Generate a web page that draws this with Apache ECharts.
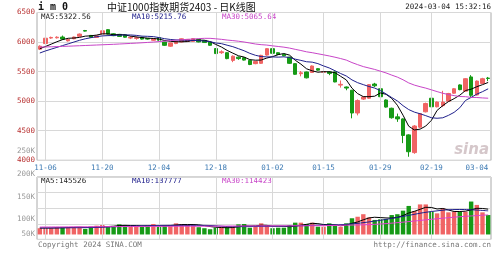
<!DOCTYPE html>
<html><head><meta charset="utf-8">
<script src="https://cdn.jsdelivr.net/npm/echarts@6/dist/echarts.min.js"></script>
<style>html,body{margin:0;padding:0;background:#fff}#c{width:499px;height:272px}</style>
</head><body><div id="c"></div><script>
const dates = ['11-03','11-06','11-07','11-08','11-09','11-10','11-13','11-14','11-15','11-16','11-17','11-20','11-21','11-22','11-23','11-24','11-27','11-28','11-29','11-30','12-01','12-04','12-05','12-06','12-07','12-08','12-11','12-12','12-13','12-14','12-15','12-18','12-19','12-20','12-21','12-22','12-25','12-26','12-27','12-28','12-29','01-02','01-03','01-04','01-05','01-08','01-09','01-10','01-11','01-12','01-15','01-16','01-17','01-18','01-19','01-22','01-23','01-24','01-25','01-26','01-29','01-30','01-31','02-01','02-02','02-05','02-06','02-07','02-08','02-19','02-20','02-21','02-22','02-23','02-26','02-27','02-28','02-29','03-01','03-04'];
const opens = [5880,5975,6068,6072,6085,6020,6055,6098,6195,6112,
 6078,6135,6210,6140,6130,6122,6068,6062,6080,6060,
 6030,6075,6000,5930,5975,6002,6012,6012,6045,6028,
 6000,5890,5820,5820,5690,5745,5735,5690,5635,5640,
 5780,5888,5820,5792,5745,5635,5465,5494,5485,5550,
 5490,5495,5495,5272,5240,5185,4800,5035,5050,5290,
 5210,5020,4880,4735,4700,4430,4130,4560,4820,5050,
 4905,4925,5000,5135,5275,5170,5410,5105,5300,5390];
const closes = [5930,6065,6078,6082,6050,6045,6085,6135,6185,6082,
 6105,6190,6135,6108,6095,6082,6080,6072,6050,6050,
 6055,6030,5945,5985,6010,6055,6045,6057,6002,5992,
 5945,5805,5835,5720,5760,5720,5695,5620,5670,5775,
 5888,5810,5790,5768,5640,5455,5480,5395,5595,5525,
 5500,5470,5325,5285,5222,4800,5010,5070,5280,5260,
 5075,4900,4720,4700,4420,4145,4580,4790,4960,4905,
 4985,4985,5130,5210,5195,5380,5100,5340,5380,5385];
const lows = [5865,5960,6055,6060,6035,6010,6048,6090,6178,6075,
 6070,6125,6128,6100,6088,6075,6050,6040,6042,6040,
 6020,6022,5935,5920,5965,5995,6005,6005,5995,5985,
 5938,5800,5800,5710,5660,5700,5688,5610,5625,5630,
 5770,5800,5780,5760,5630,5445,5420,5385,5478,5515,
 5480,5440,5320,5230,5185,4710,4760,5020,5040,5240,
 5065,4890,4705,4650,4290,4060,4110,4545,4810,4895,
 4895,4900,4990,5125,5185,5160,5070,5095,5290,5340];
const highs = [5945,6075,6092,6098,6110,6055,6092,6145,6205,6120,
 6115,6200,6218,6150,6138,6128,6100,6095,6088,6068,
 6062,6082,6005,5992,6018,6062,6052,6065,6052,6035,
 6005,5895,5860,5825,5775,5755,5742,5695,5680,5785,
 5895,5895,5825,5798,5752,5640,5510,5500,5605,5560,
 5515,5510,5500,5350,5248,5190,5030,5080,5290,5310,
 5220,5030,4890,4790,4710,4440,4595,4800,4975,5110,
 4995,5175,5140,5220,5285,5390,5440,5350,5395,5410];
const priceMA5 = [5888,5925,5965,6005,6041,6064,6068,6079,6100,6106,
 6118,6139,6139,6124,6127,6122,6100,6087,6076,6067,
 6061,6051,6026,6013,6005,6005,6008,6030,6034,6030,
 6008,5960,5916,5859,5813,5768,5746,5703,5693,5696,
 5730,5753,5787,5806,5779,5693,5627,5548,5513,5490,
 5499,5497,5483,5421,5360,5220,5128,5077,5076,5084,
 5139,5117,5047,4931,4763,4577,4513,4527,4579,4676,
 4844,4925,4993,5043,5101,5180,5203,5245,5279,5317];
const priceMA10 = [5815,5850,5880,5910,5940,5970,6000,6030,6055,6074,
 6091,6104,6109,6112,6117,6120,6120,6113,6100,6097,
 6092,6076,6057,6044,6036,6033,6030,6028,6023,6018,
 6007,5984,5973,5947,5922,5888,5853,5809,5776,5755,
 5749,5749,5745,5750,5738,5711,5690,5667,5660,5635,
 5596,5562,5515,5468,5426,5360,5313,5280,5248,5222,
 5180,5123,5062,5004,4924,4858,4815,4787,4755,4720,
 4711,4719,4760,4811,4889,5012,5064,5119,5161,5209];
const priceMA30 = [5915,5917,5920,5923,5927,5930,5934,5938,5942,5946,
 5950,5954,5958,5962,5967,5972,5977,5982,5988,5994,
 6000,6008,6016,6025,6032,6039,6045,6052,6058,6063,
 6063,6055,6046,6034,6025,6014,6001,5984,5967,5956,
 5949,5936,5925,5914,5898,5877,5857,5835,5820,5802,
 5784,5765,5744,5721,5695,5653,5618,5585,5561,5537,
 5508,5478,5441,5407,5362,5309,5272,5245,5221,5192,
 5162,5134,5112,5094,5079,5076,5064,5062,5055,5050];
// volumes in K (thousand lots)
const volumes = [37,37,37,43,43,43,43,43,33,46,
 52,56,50,46,60,56,52,52,46,52,
 62,46,55,52,66,62,60,52,43,37,
 31,40,43,43,46,60,62,40,46,66,
 56,37,40,40,56,70,70,62,70,46,
 46,66,56,46,66,96,105,120,101,86,
 90,92,115,120,141,169,139,178,178,135,
 125,155,131,135,135,135,195,175,131,115];
const volMA5 = [38,38,38,39,40,41,42,43,41,42,
 43,45,47,49,53,54,53,53,51,52,
 53,52,52,53,56,59,59,59,57,52,
 47,43,41,40,41,46,51,50,51,55,
 54,49,49,48,46,49,55,60,66,64,
 59,58,57,52,56,66,74,87,98,102,
 100,98,97,101,112,127,137,149,161,160,
 151,154,145,136,136,138,146,155,154,150];
const volMA10Idx = [0,9,14,19,24,29,34,39,44,49,54,59,64,69,74,79];
const volMA10Val = [39,41,47,52,54,54,46,48,50,55,60,79,107,136,148,140];
const volMA30Idx = [0,10,20,29,39,49,54,59,64,69,74,79];
const volMA30Val = [44,46,48,49,51,52,55,60,73,90,105,116];
const labelDates = ['11-06','11-20','12-04','12-18','01-02','01-15','01-29','02-19','03-04'];
const gridDates = ['11-06','11-20','12-04','12-18','01-02','01-15','01-29','02-19'];
const volTickLabels = {50:'50K',100:'100K',150:'150K',200:'200K',250:'250K'};

const UP = '#f06464', DOWN = '#169a16';
const mono = 'DejaVu Sans Mono';
const chart = echarts.init(document.getElementById('c'), null, {renderer:'canvas'});

const vGrid = (xi, yi) => ({
  type:'line', xAxisIndex:xi, yAxisIndex:yi, data:[], silent:true, z:1,
  markLine:{silent:true, symbol:['none','none'], animation:false, label:{show:false},
    lineStyle:{color:'#d8d8d8', type:'solid', width:1},
    data: gridDates.map(d => ({xAxis:d}))}
});
const line = (xi, yi, data, color, smooth) => ({
  type:'line', xAxisIndex:xi, yAxisIndex:yi, data, showSymbol:false, symbol:'none', silent:true,
  smooth: smooth || false, z:5, lineStyle:{color, width:1}
});

const option = {
  animation:false,
  backgroundColor:'#fff',
  grid:[
    {left:37, width:454, top:12.5, height:147.8, show:true, borderColor:'#aaa', borderWidth:1, backgroundColor:'transparent'},
    {left:37, width:454, top:177, height:62.4, show:true, borderColor:'#aaa', borderWidth:1, backgroundColor:'transparent'},
    {left:37, width:454, top:151.5, height:90.5, show:false}
  ],
  xAxis:[
    {type:'category', gridIndex:0, data:dates, boundaryGap:true,
     axisLine:{show:false}, axisTick:{show:false}, splitLine:{show:false},
     axisLabel:{interval:(i, v) => labelDates.includes(v), color:'#3d7ab3', fontFamily:mono, fontSize:7.5, margin:4, alignMaxLabel:'right'}},
    {type:'category', gridIndex:1, data:dates, boundaryGap:true,
     axisLine:{show:false}, axisTick:{show:false}, axisLabel:{show:false}, splitLine:{show:false}},
    {type:'category', gridIndex:2, data:dates, show:false}
  ],
  yAxis:[
    {type:'value', gridIndex:0, min:4000, max:6500, interval:500,
     axisLine:{show:false}, axisTick:{show:false},
     splitLine:{lineStyle:{color:'#d8d8d8'}},
     axisLabel:{color:'#b83030', fontFamily:mono, fontSize:7.5, margin:2, formatter: v => String(v)}},
    {type:'value', gridIndex:1, min:-29.2, max:340.4, interval:92.4,
     axisLine:{show:false}, axisTick:{show:false}, axisLabel:{show:false},
     splitLine:{lineStyle:{color:'#d8d8d8'}}},
    {type:'value', gridIndex:2, min:50, max:250, interval:50,
     axisLine:{show:false}, axisTick:{show:false}, splitLine:{show:false},
     axisLabel:{color:'#999', fontFamily:mono, fontSize:7.5, margin:2,
       formatter: v => v === 50 ? '{s|' + volTickLabels[v] + '}' : (volTickLabels[v] || ''),
       rich:{s:{color:'#999', fontFamily:mono, fontSize:7.5, padding:[0,0,16,0]}}}}
  ],
  series:[
    vGrid(0,0),
    vGrid(1,1),
    {type:'candlestick', xAxisIndex:0, yAxisIndex:0, barWidth:4, z:3, silent:true,
     data: dates.map((d,i) => [opens[i], closes[i], lows[i], highs[i]]),
     itemStyle:{color:UP, color0:DOWN, borderColor:UP, borderColor0:DOWN, borderWidth:1}},
    line(0,0,priceMA5,'#000000'),
    line(0,0,priceMA10,'#20208c'),
    line(0,0,priceMA30,'#c845c8'),
    {type:'bar', xAxisIndex:1, yAxisIndex:1, barWidth:4.4, z:3, silent:true,
     data: volumes.map((v,i) => ({value:v, itemStyle:{color: closes[i] >= opens[i] ? UP : DOWN}}))},
    line(1,1,volMA5,'#000000'),
    line(1,1,volMA10Idx.map((x,k) => [x, volMA10Val[k]]),'#20208c', 0.4),
    line(1,1,volMA30Idx.map((x,k) => [x, volMA30Val[k]]),'#e040d0', 0.4)
  ],
  graphic:[
    {type:'text', x:38, y:7, style:{text:'i m 0', font:'bold 10px "DejaVu Sans Mono"', fill:'#111', verticalAlign:'middle', align:'left'}},
    {type:'text', x:107, y:7, style:{text:'中证1000指数期货2403 - 日K线图', font:'10px "Noto Sans CJK SC"', fill:'#111', verticalAlign:'middle', align:'left'}},
    {type:'text', x:491, y:7, style:{text:'2024-03-04 15:32:16', font:'7.5px "DejaVu Sans Mono"', fill:'#222', verticalAlign:'middle', align:'right'}},
    {type:'text', x:41, y:17, style:{text:'MA5:5322.56', font:'7.5px "DejaVu Sans Mono"', fill:'#222', verticalAlign:'middle', align:'left'}},
    {type:'text', x:132, y:17, style:{text:'MA10:5215.76', font:'7.5px "DejaVu Sans Mono"', fill:'#20208c', verticalAlign:'middle', align:'left'}},
    {type:'text', x:222, y:17, style:{text:'MA30:5065.64', font:'7.5px "DejaVu Sans Mono"', fill:'#c845c8', verticalAlign:'middle', align:'left'}},
    {type:'text', x:41, y:181, style:{text:'MA5:145526', font:'7.5px "DejaVu Sans Mono"', fill:'#222', verticalAlign:'middle', align:'left'}},
    {type:'text', x:132, y:181, style:{text:'MA10:137777', font:'7.5px "DejaVu Sans Mono"', fill:'#20208c', verticalAlign:'middle', align:'left'}},
    {type:'text', x:222, y:181, style:{text:'MA30:114423', font:'7.5px "DejaVu Sans Mono"', fill:'#c845c8', verticalAlign:'middle', align:'left'}},
    {type:'text', x:38, y:245, style:{text:'Copyright 2024 SINA.COM', font:'7.5px "DejaVu Sans Mono"', fill:'#777', verticalAlign:'middle', align:'left'}},
    {type:'text', x:491, y:245, style:{text:'http://finance.sina.com.cn', font:'7.5px "DejaVu Sans Mono"', fill:'#777', verticalAlign:'middle', align:'right'}},
    {type:'text', x:489, y:150, z:0, style:{text:'sina', font:'italic bold 15px "DejaVu Sans"', fill:'rgba(195,175,180,0.7)', verticalAlign:'middle', align:'right'}}
  ]
};
chart.setOption(option);
</script></body></html>
